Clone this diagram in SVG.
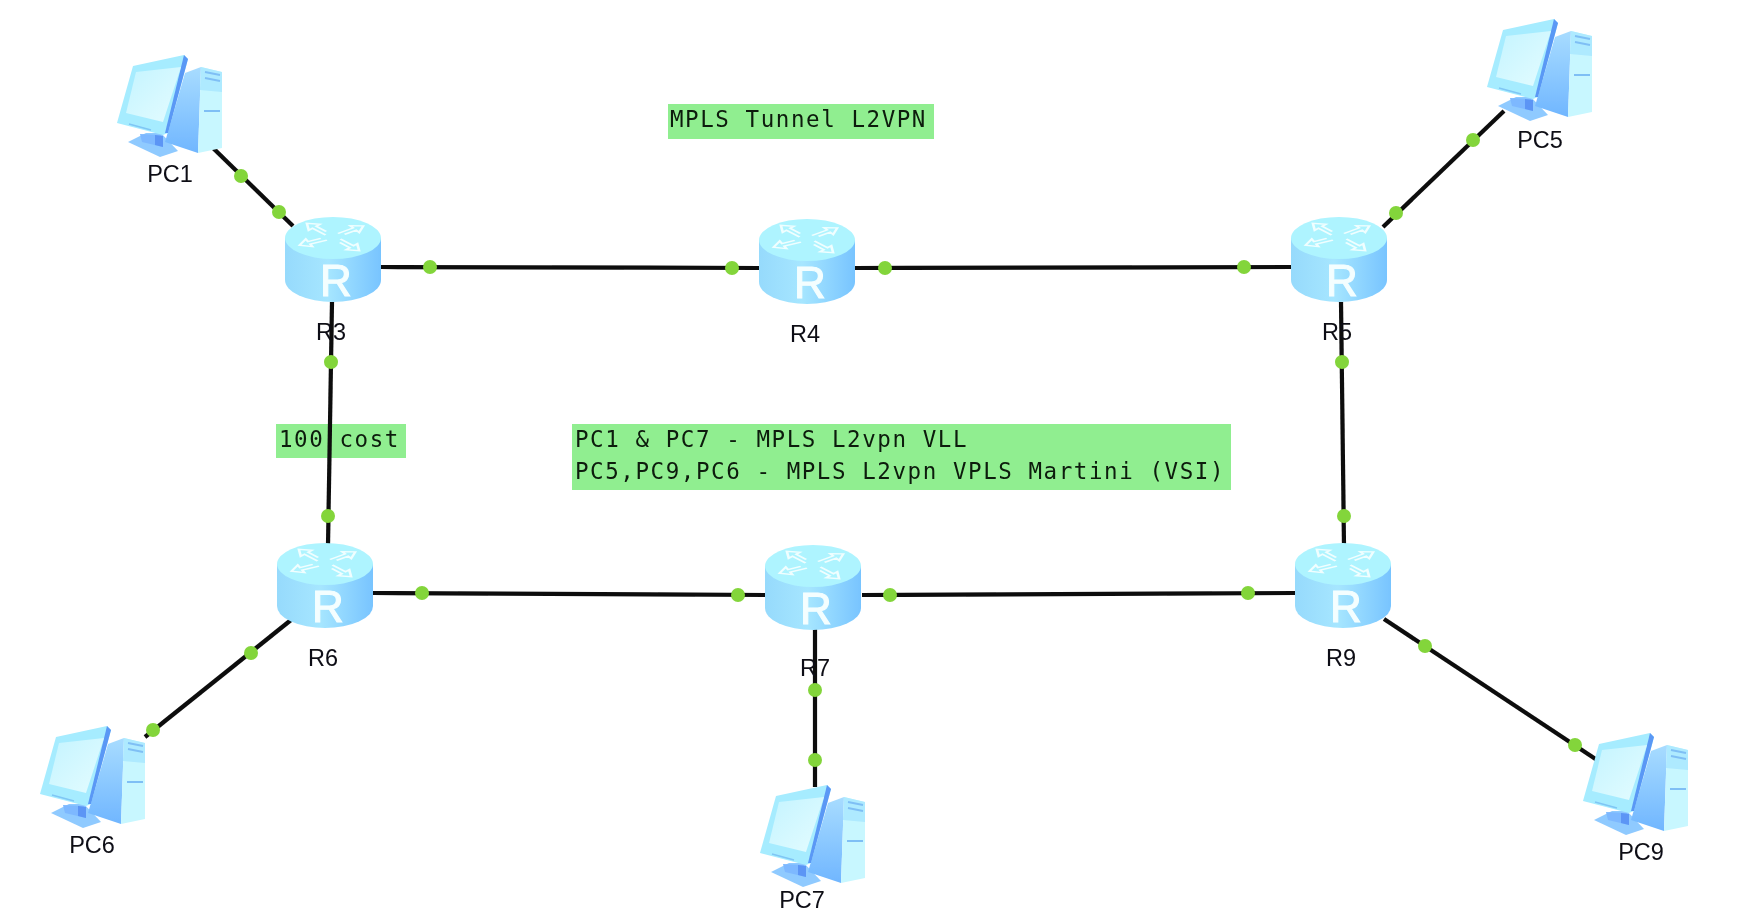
<svg xmlns="http://www.w3.org/2000/svg" width="1742" height="924" viewBox="0 0 1742 924">
<style>
.link{stroke:#0a0a0a;stroke-width:4.2;fill:none;stroke-linecap:butt}
.dot{fill:#83d53a}
.lbl{font-family:"Liberation Sans",Arial,sans-serif;font-size:23.5px;fill:#0c0c14;text-anchor:middle}
.note{font-family:"DejaVu Sans Mono","Liberation Mono",monospace;font-size:22.5px;letter-spacing:1.57px;fill:#0c1a0c}
.box{fill:#90ee90}
.rl{font-family:"Liberation Sans",Arial,sans-serif;font-size:44px;fill:#f4feff;stroke:#f4feff;stroke-width:1.1;text-anchor:middle}
.ar{fill:none;stroke:#f0feff;stroke-width:3}
</style>
<defs>
<filter id="soft" x="-2%" y="-2%" width="104%" height="104%"><feGaussianBlur stdDeviation="0.6"/></filter>
<linearGradient id="rb" x1="0" x2="1" y1="0" y2="0"><stop offset="0" stop-color="#96dafc"/><stop offset=".45" stop-color="#a6e6ff"/><stop offset="1" stop-color="#78c4ff"/></linearGradient>
<linearGradient id="pcs" x1="0" x2="0" y1="0" y2="1"><stop offset="0" stop-color="#a8dcff"/><stop offset="1" stop-color="#70b6ff"/></linearGradient>
<linearGradient id="scr" x1="0" x2="1" y1="0" y2="1"><stop offset="0" stop-color="#c4f4ff"/><stop offset="1" stop-color="#e4fcff"/></linearGradient>
<g id="arrow"><path class="ar" d="M3,-3 L24,-3 L24,-9 L36,0 L24,9 L24,3 L8,3"/></g>
<g id="router">
<path d="M-48,21 V63 A48,22 0 0 0 48,63 V21 Z" fill="url(#rb)"/>
<ellipse cx="0" cy="21" rx="48" ry="21" fill="#aef4ff"/>
<g transform="translate(0,20) scale(.88,.46)">
<use href="#arrow" transform="rotate(-135) translate(6,0)"/>
<use href="#arrow" transform="rotate(-35) translate(6,0)"/>
<use href="#arrow" transform="rotate(45) translate(6,0)"/>
<use href="#arrow" transform="rotate(155) translate(6,0)"/>
</g>
<text class="rl" x="3" y="79">R</text>
</g>
<g id="pc">
<path d="M9,87 L27,78 L42,78 L59,96 L41,102 Z" fill="#8fcaff"/>
<path d="M21,79 L42,80 L44,92 L23,87 Z" fill="#7db8ff"/>
<path d="M36,80 L44,81 L44,92 L36,90 Z" fill="#5b95f5"/>
<path d="M66,18 L82,12 L79,98 L46,87 Z" fill="url(#pcs)"/>
<path d="M82,12 L103,17 L103,93 L79,98 Z" fill="#c8f7ff"/>
<path d="M82,12 L103,17 L103,37 L81,35 Z" fill="#aeeaff"/>
<path d="M86,17 L101,20 M86,23 L101,26 M85,56 L101,56" stroke="#7fbff5" stroke-width="1.8" fill="none"/>
<path d="M14,11 L65,0 L69,4 L49,78 L44,80 L-2,68 Z" fill="#a6ecff"/>
<path d="M65,0 L69,4 L49,78 L46,78 Z" fill="#5a98f5"/>
<path d="M17,17 L62,12 L44,67 L7,58 Z" fill="url(#scr)"/>
<path d="M10,69 L32,75" stroke="#7fc6f5" stroke-width="1.5" fill="none"/>
</g>
</defs>
<rect width="1742" height="924" fill="#fff"/>
<g filter="url(#soft)">
<g id="notes">
<g id="note-tunnel"><rect class="box" x="668" y="104" width="266" height="35"/><text class="note" x="670" y="127">MPLS Tunnel L2VPN</text></g>
<g id="note-cost"><rect class="box" x="276" y="424" width="130" height="34"/><text class="note" x="279" y="447">100 cost</text></g>
<g id="note-services"><rect class="box" x="572" y="424" width="659" height="66"/><text class="note" x="575" y="447">PC1 &amp; PC7 - MPLS L2vpn VLL</text><text class="note" x="575" y="479">PC5,PC9,PC6 - MPLS L2vpn VPLS Martini (VSI)</text></g>
</g>
<g id="connectors">
<path class="link" d="M213,148 L293,226"/>
<path class="link" d="M381,267 L759,268"/>
<path class="link" d="M855,268 L1292,267"/>
<path class="link" d="M1504,111 L1383,227"/>
<path class="link" d="M332,302 L328,545"/>
<path class="link" d="M1341,302 L1344,545"/>
<path class="link" d="M373,593 L766,595"/>
<path class="link" d="M862,595 L1296,593"/>
<path class="link" d="M291,620 L145,737"/>
<path class="link" d="M815,628 L815,787"/>
<path class="link" d="M1384,619 L1597,760"/>
<g id="link-dots">
<circle class="dot" cx="241" cy="176" r="7"/><circle class="dot" cx="279" cy="212" r="7"/>
<circle class="dot" cx="430" cy="267" r="7"/><circle class="dot" cx="732" cy="268" r="7"/>
<circle class="dot" cx="885" cy="268" r="7"/><circle class="dot" cx="1244" cy="267" r="7"/>
<circle class="dot" cx="1473" cy="140" r="7"/><circle class="dot" cx="1396" cy="213" r="7"/>
<circle class="dot" cx="331" cy="362" r="7"/><circle class="dot" cx="328" cy="516" r="7"/>
<circle class="dot" cx="1342" cy="362" r="7"/><circle class="dot" cx="1344" cy="516" r="7"/>
<circle class="dot" cx="422" cy="593" r="7"/><circle class="dot" cx="738" cy="595" r="7"/>
<circle class="dot" cx="890" cy="595" r="7"/><circle class="dot" cx="1248" cy="593" r="7"/>
<circle class="dot" cx="251" cy="653" r="7"/><circle class="dot" cx="153" cy="730" r="7"/>
<circle class="dot" cx="815" cy="690" r="7"/><circle class="dot" cx="815" cy="760" r="7"/>
<circle class="dot" cx="1425" cy="646" r="7"/><circle class="dot" cx="1575" cy="745" r="7"/>
</g>
</g>
<g id="R3"><use href="#router" x="333" y="217"/><text class="lbl" x="331" y="340">R3</text></g>
<g id="R4"><use href="#router" x="807" y="219"/><text class="lbl" x="805" y="342">R4</text></g>
<g id="R5"><use href="#router" x="1339" y="217"/><text class="lbl" x="1337" y="340">R5</text></g>
<g id="R6"><use href="#router" x="325" y="543"/><text class="lbl" x="323" y="666">R6</text></g>
<g id="R7"><use href="#router" x="813" y="545"/><text class="lbl" x="815" y="676">R7</text></g>
<g id="R9"><use href="#router" x="1343" y="543"/><text class="lbl" x="1341" y="666">R9</text></g>
<g id="PC1"><use href="#pc" x="119" y="55"/><text class="lbl" x="170" y="182">PC1</text></g>
<g id="PC5"><use href="#pc" x="1489" y="19"/><text class="lbl" x="1540" y="148">PC5</text></g>
<g id="PC6"><use href="#pc" x="42" y="726"/><text class="lbl" x="92" y="853">PC6</text></g>
<g id="PC7"><use href="#pc" x="762" y="785"/><text class="lbl" x="802" y="908">PC7</text></g>
<g id="PC9"><use href="#pc" x="1585" y="733"/><text class="lbl" x="1641" y="860">PC9</text></g>
</g>
</svg>
